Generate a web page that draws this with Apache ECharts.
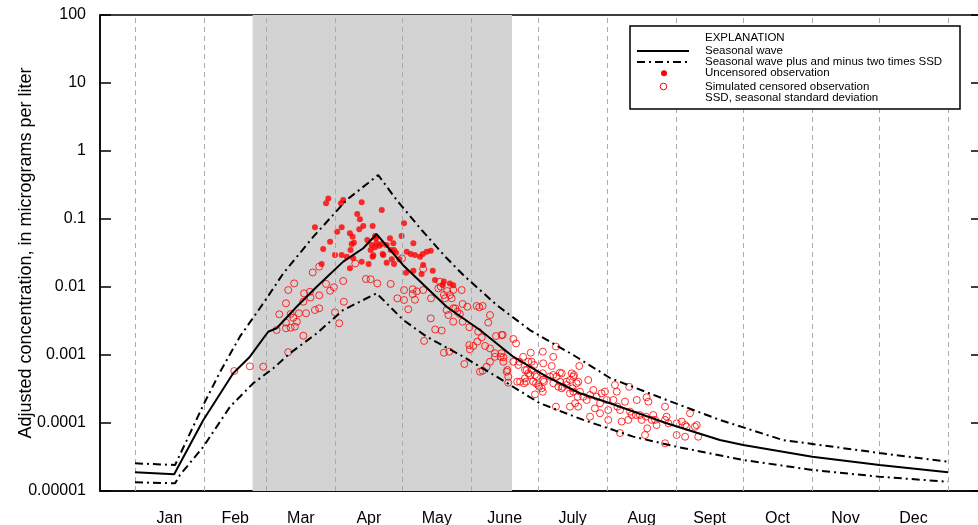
<!DOCTYPE html>
<html><head><meta charset="utf-8">
<script src="https://cdn.jsdelivr.net/npm/echarts@6/dist/echarts.min.js"></script>
<style>html,body{margin:0;padding:0;background:#fff}#c{width:978px;height:525px}</style>
</head><body><div id="c"></div>
<script>
// ---- data ----
const monthStarts = [0,31,59,90,120,151,181,212,243,273,304,334,365];
const monthNames = ['Jan','Feb','Mar','Apr','May','June','July','Aug','Sept','Oct','Nov','Dec'];
const yTickLabels = ['0.00001','0.0001','0.001','0.01','0.1','1','10','100'];
const shadedPeriod = [52.8, 169.3];

const waveDays   = [0,17.6,30.7,44.1,51.6,59.8,63.6,72.6,81.6,93.5,102.5,108.5,120.3,139.9,154.9,169.8,184.8,199.8,213.3,238.7,262.6,273.1,304.1,334.3,365];
const waveValues = [1.88e-5,1.76e-5,1.11e-4,5.38e-4,9.44e-4,2.20e-3,2.47e-3,5.13e-3,1.01e-2,2.36e-2,3.71e-2,6.01e-2,2.11e-2,5.13e-3,2.33e-3,9.44e-4,4.80e-4,2.74e-4,1.95e-4,9.9e-5,5.62e-5,4.74e-5,3.19e-5,2.41e-5,1.88e-5];

const upperDays   = [0,18,30.7,38.2,47.1,57.6,66.6,80.1,95,109.2,117.5,128.7,139.9,147.4,162.4,177.3,196.8,213.3,238.7,262.6,290.9,334.3,365];
const upperValues = [2.55e-5,2.41e-5,1.84e-4,5.62e-4,1.86e-3,5.75e-3,1.59e-2,5.50e-2,0.190,0.444,0.190,6.89e-2,2.67e-2,1.50e-2,5.43e-3,2.33e-3,1.0e-3,4.59e-4,2.18e-4,1.11e-4,5.62e-5,3.62e-5,2.70e-5];

const lowerDays   = [0,18,20.2,30.7,42.7,53.1,62.1,69.6,81.6,93.5,108.5,120.5,131,147.4,162.4,181.8,201.3,223.7,243.2,273.1,304.1,334.3,365];
const lowerValues = [1.34e-5,1.30e-5,1.72e-5,4.48e-5,1.74e-4,3.84e-4,6.37e-4,1.06e-3,2.08e-3,4.59e-3,8.07e-3,3.27e-3,1.86e-3,9.44e-4,4.80e-4,1.95e-4,1.11e-4,6.30e-5,4.48e-5,2.86e-5,2.04e-5,1.62e-5,1.37e-5];

const uncensoredObs = [
[86.8,0.201],[85.8,0.170],[93.5,0.190],[92.5,0.170],[101.8,0.177],[80.8,0.0754],[92.8,0.0754],[99.8,0.1185],[101.0,0.099],
[87.6,0.0464],[84.5,0.0362],[90.8,0.065],[96.5,0.0616],[97.7,0.055],[102.5,0.0788],[104.3,0.0491],[98.3,0.0449],[96.8,0.035],
[89.8,0.0296],[92.8,0.0296],[95.1,0.0279],[98.0,0.0264],[101.8,0.0235],[104.9,0.0218],[106.7,0.0279],[105.8,0.035],[83.8,0.0218],
[96.5,0.0188],[108.5,0.0439],[107.8,0.0383],[108.2,0.052],[110.8,0.136],[106.7,0.0788],[100.7,0.0705],[97.3,0.0429],[107.8,0.0562],
[110.8,0.0429],[113.0,0.0415],[114.5,0.052],[114.8,0.035],[116.3,0.035],[117.2,0.0319],[118.7,0.0256],[119.7,0.0562],[120.8,0.0863],
[122.0,0.033],[123.8,0.0306],[125.0,0.0439],[125.7,0.0296],[128.0,0.0279],[129.2,0.0306],[131.0,0.033],[132.8,0.0341],[121.7,0.0162],
[128.7,0.0155],[107.0,0.0293],[111.5,0.0296],[113.0,0.0227],[115.3,0.0256],[116.3,0.0218],[109.7,0.0405],[106.3,0.0415],[138.7,0.012],
[141.4,0.0113],[142.9,0.0106],[116.0,0.0439],[111.2,0.0306],[125.0,0.0174],[133.7,0.0174],[134.7,0.0127],[138.2,0.0107],[129.4,0.0211]
];

const censoredObs = [
[44.6,5.81e-4],[51.6,6.82e-4],[57.6,6.73e-4],[79.8,0.0164],[82.7,0.0199],[71.5,0.0113],[68.8,9.02e-3],[67.8,5.76e-3],[64.8,3.97e-3],
[63.6,2.33e-3],[67.8,2.99e-3],[67.8,2.47e-3],[69.9,2.52e-3],[71.8,2.61e-3],[72.7,3.09e-3],[71.1,3.53e-3],[69.9,4.01e-3],[73.6,4.11e-3],
[76.8,4.11e-3],[75.6,6.07e-3],[75.9,8.07e-3],[78.6,8.52e-3],[78.8,7.0e-3],[82.7,7.54e-3],[80.8,4.59e-3],[82.7,4.86e-3],[75.6,1.92e-3],
[68.8,1.1e-3],[85.8,0.0111],[87.6,8.8e-3],[89.3,9.9e-3],[93.5,0.01225],[93.8,6.07e-3],[89.8,4.25e-3],[91.7,2.93e-3],[98.9,0.0222],
[103.7,0.0131],[105.8,0.013],[108.8,0.0113],
[114.8,0.0111],[117.8,6.82e-3],[120.8,9.02e-3],[120.8,6.44e-3],[122.7,4.7e-3],[124.7,9.28e-3],[124.7,7.88e-3],[126.5,8.63e-3],[125.7,6.5e-3],
[129.4,9.02e-3],[129.8,1.61e-3],[132.8,3.46e-3],[134.8,2.37e-3],[137.7,2.29e-3],[138.7,1.08e-3],[141.1,1.12e-3],[142.9,4.86e-3],[136.9,0.012],
[136.2,9.55e-3],[137.3,0.0101],[138.7,7.62e-3],[140.2,8.72e-3],[139.2,6.82e-3],[142.2,6.82e-3],[141.4,7.62e-3],[142.9,9.02e-3],[132.9,6.82e-3],
[129.4,0.0184],[119.9,0.0264],[146.7,9.02e-3],[147.1,5.62e-3],[143.8,4.86e-3],[139.9,4.59e-3],[140.7,3.87e-3],[142.9,3.09e-3],[144.7,4.33e-3],
[145.9,4.01e-3],[147.1,3.09e-3],[149.2,5.13e-3],[150.1,2.56e-3],[153.4,5.26e-3],[154.6,5.03e-3],[156.1,5.26e-3],[159.4,3.87e-3],[158.6,2.99e-3],
[154.1,2.2e-3],[155.7,1.82e-3],[153.7,1.57e-3],[150.1,1.4e-3],[151.9,1.36e-3],[150.4,1.21e-3],[157.2,1.36e-3],[159.4,1.25e-3],[162.1,1.9e-3],
[164.6,1.97e-3],[161.6,1.06e-3],[161.6,9.4e-4],[164.2,9.4e-4],[159.4,7.96e-4],[157.9,6.73e-4],[154.9,5.68e-4],[147.9,7.37e-4],[156.1,5.87e-4],
[167.2,6.01e-4],[167.6,4.8e-4],[167.6,3.91e-4],[169.9,1.72e-3],[171.1,1.48e-3],[171.6,4.05e-4],[174.7,3.83e-4],[172.6,7.96e-4],[174.3,9.4e-4],
[176.6,7.96e-4],[175.9,6.01e-4],[177.4,5.08e-4],[175.1,4.54e-4],[177.7,1.08e-3],[179.2,7.12e-4],[180.4,4.8e-4],[180.0,3.83e-4],[183.1,1.12e-3],
[183.3,7.54e-4],[183.1,5.38e-4],[183.6,4.05e-4],[181.5,3.41e-4],[179.6,2.64e-4],[187.8,9.4e-4],[189.0,1.33e-3],[187.1,6.89e-4],[187.8,3.83e-4],
[189.3,4.8e-4],[191.6,5.38e-4],[192.0,3.41e-4],[193.8,3.62e-4],[196.1,5.38e-4],[196.8,4.8e-4],[199.5,6.89e-4],[198.3,3.83e-4],[196.8,2.89e-4],
[198.8,2.43e-4],[189.0,1.74e-4],[195.3,1.74e-4],
[165.1,1.97e-3],[164.6,1.06e-3],[165.4,9.28e-4],[165.4,7.96e-4],[166.9,5.68e-4],[169.9,7.96e-4],[172.1,7.12e-4],[178.1,7.96e-4],[175.1,6.01e-4],
[176.6,5.38e-4],[178.1,6.01e-4],[172.9,4.05e-4],[175.6,4.05e-4],[179.6,5.08e-4],[178.8,4.05e-4],[181.1,3.62e-4],[182.6,3.24e-4],[183.3,4.29e-4],
[183.1,2.89e-4],[187.8,5.08e-4],[190.8,5.5e-4],[186.3,4.8e-4],[190.1,3.41e-4],[191.6,3.24e-4],[190.8,4.05e-4],[193.8,4.05e-4],[197.1,5.08e-4],
[195.3,4.29e-4],[196.5,3.24e-4],[199.0,4.05e-4],[195.3,2.73e-4],[197.6,1.95e-4],[199.0,1.74e-4],[199.8,2.89e-4],[201.3,2.43e-4],[203.5,4.29e-4],
[202.8,2.18e-4],[204.3,2.58e-4],[205.8,3.06e-4],[207.3,2.43e-4],[209.5,2.73e-4],[211.0,2.89e-4],[208.8,1.95e-4],[211.8,2.18e-4],[206.5,1.64e-4],
[208.8,1.39e-4],[204.3,1.24e-4],[212.5,1.55e-4],[212.5,1.11e-4],[215.5,3.62e-4],[216.3,2.89e-4],[214.8,2.18e-4],[216.6,1.74e-4],[217.8,1.55e-4],
[218.5,1.05e-4],[221.9,3.41e-4],[220.0,2.06e-4],[222.3,1.47e-4],[221.5,1.11e-4],[223.0,1.31e-4],[225.3,2.18e-4],[224.9,1.31e-4],[226.7,1.31e-4],
[227.5,1.11e-4],[229.4,1.24e-4],[230.5,2.06e-4],[229.7,2.39e-4],[232.7,1.31e-4],[232.0,1.11e-4],[233.5,1.11e-4],[234.2,9.33e-5],[230.0,8.35e-5],
[229.0,6.66e-5],[238.0,1.74e-4],[238.0,1.11e-4],[238.7,1.24e-4],[239.5,9.9e-5],[238.0,5.03e-5],[243.2,9.9e-5],[245.5,1.05e-4],[247.0,9.33e-5],
[247.7,8.82e-5],[249.2,1.39e-4],[251.4,8.82e-5],[252.2,9.33e-5],[252.9,6.28e-5],[247.0,6.28e-5],[243.2,6.66e-5],[217.8,7.12e-5]
];

// ---- chart ----
const FONT = '"Liberation Sans", Arial, Helvetica, sans-serif';
const zip = (a, b) => a.map((d, i) => [d, b[i]]);
const monthMids = monthNames.map((n, i) => (monthStarts[i] + monthStarts[i + 1]) / 2);
const dashDot = [8, 4, 2, 4];

const chart = echarts.init(document.getElementById('c'), null, {renderer: 'canvas'});
const logAxisBase = {
  type: 'log', logBase: 10, min: 1e-5, max: 100, interval: 1, splitNumber: 7,
  splitLine: {show: false},
  axisLine: {show: true, onZero: false, lineStyle: {color: '#000', width: 1.5}},
  axisTick: {show: true, inside: true, length: 11, lineStyle: {color: '#000', width: 1.5}}
};
chart.setOption({
  animation: false,
  grid: {left: 100, top: 15, width: 882, height: 476, show: true, borderColor: '#000', borderWidth: 1.5,
         backgroundColor: 'transparent', containLabel: false, outerBoundsMode: 'none'},
  xAxis: {
    type: 'value', min: -15.7, max: 380.3,
    splitLine: {show: false},
    axisLine: {show: true, onZero: false, lineStyle: {color: '#000', width: 1.5}},
    axisTick: {show: false},
    axisLabel: {
      customValues: monthMids,
      formatter: v => { const i = monthMids.findIndex(m => Math.abs(m - v) < 0.01); return i >= 0 ? monthNames[i] : ''; },
      color: '#000', fontSize: 16, fontFamily: FONT, margin: 20
    }
  },
  yAxis: [
    Object.assign({}, logAxisBase, {
      position: 'left',
      name: 'Adjusted concentration, in micrograms per liter',
      nameLocation: 'middle', nameRotate: 90, nameGap: 65, nameMoveOverlap: false,
      nameTextStyle: {fontSize: 18, fontFamily: FONT, color: '#000'},
      axisLabel: {formatter: v => yTickLabels[Math.round(Math.log10(v)) + 5], color: '#000', fontSize: 16, fontFamily: FONT, margin: 14, showMinLabel: true, showMaxLabel: true}
    }),
    Object.assign({}, logAxisBase, {position: 'right', axisLabel: {show: false}})
  ],
  series: [
    {
      type: 'line', data: [], z: 1, silent: true,
      markArea: {silent: true, itemStyle: {color: '#d3d3d3'}, data: [[{xAxis: shadedPeriod[0]}, {xAxis: shadedPeriod[1]}]]}
    },
    {
      type: 'line', data: [], z: 2, silent: true,
      markLine: {silent: true, symbol: ['none', 'none'], label: {show: false},
        lineStyle: {color: '#ababab', type: [5, 4], width: 1},
        data: monthStarts.map(d => ({xAxis: d}))}
    },
    {
      name: 'Simulated censored observation', type: 'scatter', z: 3,
      data: censoredObs, symbol: 'circle', symbolSize: 7,
      itemStyle: {color: 'rgba(0,0,0,0)', borderColor: '#ff0000', borderWidth: 1}
    },
    {
      name: 'Uncensored observation', type: 'scatter', z: 4,
      data: uncensoredObs, symbol: 'circle', symbolSize: 6,
      itemStyle: {color: '#ff0000'}
    },
    {
      name: 'Seasonal wave plus two times SSD', type: 'line', z: 5, data: zip(upperDays, upperValues),
      symbol: 'none', lineStyle: {color: '#000', width: 2, type: dashDot}
    },
    {
      name: 'Seasonal wave minus two times SSD', type: 'line', z: 5, data: zip(lowerDays, lowerValues),
      symbol: 'none', lineStyle: {color: '#000', width: 2, type: dashDot}
    },
    {
      name: 'Seasonal wave', type: 'line', z: 6, data: zip(waveDays, waveValues),
      symbol: 'none', lineStyle: {color: '#000', width: 2}
    }
  ],
  graphic: [
    {type: 'rect', z: 100, shape: {x: 630, y: 26, width: 330, height: 83}, style: {fill: '#fff', stroke: '#000', lineWidth: 1.5}},
    {type: 'text', z: 101, x: 705, y: 37.5, style: {text: 'EXPLANATION', font: '11.5px ' + FONT, fill: '#000', verticalAlign: 'middle'}},
    {type: 'line', z: 101, shape: {x1: 637, y1: 51, x2: 689, y2: 51}, style: {stroke: '#000', lineWidth: 2}},
    {type: 'text', z: 101, x: 705, y: 50.7, style: {text: 'Seasonal wave', font: '11.5px ' + FONT, fill: '#000', verticalAlign: 'middle'}},
    {type: 'line', z: 101, shape: {x1: 637, y1: 62, x2: 689, y2: 62}, style: {stroke: '#000', lineWidth: 2, lineDash: dashDot}},
    {type: 'text', z: 101, x: 705, y: 61.7, style: {text: 'Seasonal wave plus and minus two times SSD', font: '11.5px ' + FONT, fill: '#000', verticalAlign: 'middle'}},
    {type: 'circle', z: 101, shape: {cx: 664, cy: 73.3, r: 3}, style: {fill: '#ff0000'}},
    {type: 'text', z: 101, x: 705, y: 73.3, style: {text: 'Uncensored observation', font: '11.5px ' + FONT, fill: '#000', verticalAlign: 'middle'}},
    {type: 'circle', z: 101, shape: {cx: 663.5, cy: 86.5, r: 3.3}, style: {fill: 'none', stroke: '#ff0000', lineWidth: 1}},
    {type: 'text', z: 101, x: 705, y: 86.7, style: {text: 'Simulated censored observation', font: '11.5px ' + FONT, fill: '#000', verticalAlign: 'middle'}},
    {type: 'text', z: 101, x: 705, y: 98.3, style: {text: 'SSD, seasonal standard deviation', font: '11.5px ' + FONT, fill: '#000', verticalAlign: 'middle'}}
  ]
});
</script>
</body></html>
